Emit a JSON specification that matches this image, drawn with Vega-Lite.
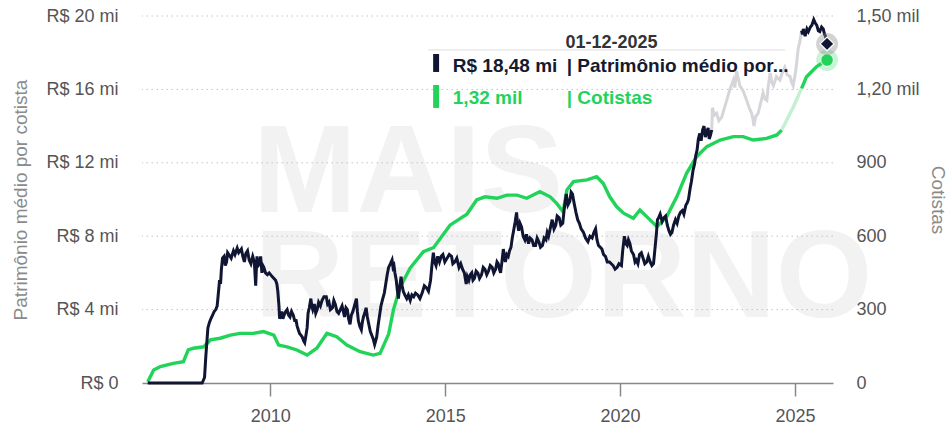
{
  "$schema": "https://vega.github.io/schema/vega-lite/v6.json",
  "width": 691,
  "height": 367,
  "autosize": {"type": "none"},
  "padding": {"left": 142, "top": 16, "right": 119, "bottom": 46},
  "background": "white",
  "config": {
    "view": {"stroke": null},
    "font": "Liberation Sans",
    "axis": {"labelFont": "Liberation Sans", "titleFont": "Liberation Sans"}
  },
  "datasets": {
    "patrimonio": [
      {"data": "2006-07-01", "valor": 0},
      {"data": "2007-07-01", "valor": 0},
      {"data": "2008-01-20", "valor": 0},
      {"data": "2008-02-14", "valor": 0.3},
      {"data": "2008-02-28", "valor": 1.5},
      {"data": "2008-03-20", "valor": 3.0},
      {"data": "2008-04-05", "valor": 3.3},
      {"data": "2008-04-20", "valor": 3.5},
      {"data": "2008-05-08", "valor": 3.7},
      {"data": "2008-05-25", "valor": 3.9},
      {"data": "2008-06-10", "valor": 4.0},
      {"data": "2008-06-25", "valor": 4.2},
      {"data": "2008-07-20", "valor": 5.6},
      {"data": "2008-07-30", "valor": 5.4},
      {"data": "2008-08-08", "valor": 6.2},
      {"data": "2008-08-20", "valor": 6.8},
      {"data": "2008-09-05", "valor": 6.9},
      {"data": "2008-09-18", "valor": 6.4},
      {"data": "2008-10-01", "valor": 6.6},
      {"data": "2008-10-12", "valor": 7.1},
      {"data": "2008-10-25", "valor": 7.0},
      {"data": "2008-11-18", "valor": 6.8},
      {"data": "2008-12-12", "valor": 7.2},
      {"data": "2008-12-28", "valor": 7.0},
      {"data": "2009-01-20", "valor": 7.35},
      {"data": "2009-02-05", "valor": 7.1},
      {"data": "2009-02-20", "valor": 7.2},
      {"data": "2009-03-05", "valor": 7.3},
      {"data": "2009-03-20", "valor": 6.9},
      {"data": "2009-04-05", "valor": 6.6},
      {"data": "2009-04-20", "valor": 7.05},
      {"data": "2009-05-08", "valor": 7.2},
      {"data": "2009-05-25", "valor": 6.7},
      {"data": "2009-06-12", "valor": 6.5},
      {"data": "2009-07-01", "valor": 6.9},
      {"data": "2009-07-18", "valor": 6.6},
      {"data": "2009-08-01", "valor": 5.3},
      {"data": "2009-08-08", "valor": 6.2},
      {"data": "2009-08-15", "valor": 6.9},
      {"data": "2009-08-28", "valor": 6.4},
      {"data": "2009-09-12", "valor": 6.5},
      {"data": "2009-09-22", "valor": 6.9},
      {"data": "2009-10-05", "valor": 6.0},
      {"data": "2009-10-15", "valor": 6.4},
      {"data": "2009-10-25", "valor": 6.3},
      {"data": "2009-11-12", "valor": 6.0},
      {"data": "2009-12-01", "valor": 5.9},
      {"data": "2009-12-20", "valor": 6.0},
      {"data": "2010-01-20", "valor": 5.8},
      {"data": "2010-02-08", "valor": 5.7},
      {"data": "2010-02-25", "valor": 5.6},
      {"data": "2010-03-10", "valor": 5.4},
      {"data": "2010-03-20", "valor": 5.0},
      {"data": "2010-04-01", "valor": 4.2},
      {"data": "2010-04-08", "valor": 3.5},
      {"data": "2010-04-20", "valor": 3.7},
      {"data": "2010-05-01", "valor": 3.9},
      {"data": "2010-05-12", "valor": 3.5},
      {"data": "2010-05-25", "valor": 3.7},
      {"data": "2010-06-10", "valor": 3.9},
      {"data": "2010-06-25", "valor": 4.0},
      {"data": "2010-07-10", "valor": 3.7},
      {"data": "2010-07-25", "valor": 3.6},
      {"data": "2010-08-10", "valor": 3.9},
      {"data": "2010-08-28", "valor": 3.7},
      {"data": "2010-09-12", "valor": 3.4},
      {"data": "2010-09-27", "valor": 3.4},
      {"data": "2010-10-08", "valor": 3.1},
      {"data": "2010-10-20", "valor": 2.9},
      {"data": "2010-11-02", "valor": 2.7},
      {"data": "2010-11-18", "valor": 2.6},
      {"data": "2010-12-01", "valor": 2.5},
      {"data": "2010-12-15", "valor": 2.3},
      {"data": "2010-12-26", "valor": 2.2},
      {"data": "2011-01-08", "valor": 2.6},
      {"data": "2011-01-20", "valor": 3.0},
      {"data": "2011-01-30", "valor": 3.8},
      {"data": "2011-02-12", "valor": 4.1},
      {"data": "2011-02-28", "valor": 4.6},
      {"data": "2011-03-10", "valor": 4.2},
      {"data": "2011-03-20", "valor": 4.0},
      {"data": "2011-04-05", "valor": 4.3},
      {"data": "2011-04-20", "valor": 3.8},
      {"data": "2011-05-05", "valor": 4.0},
      {"data": "2011-05-20", "valor": 4.4},
      {"data": "2011-06-08", "valor": 4.2},
      {"data": "2011-06-25", "valor": 4.5},
      {"data": "2011-07-15", "valor": 4.7},
      {"data": "2011-08-08", "valor": 4.7},
      {"data": "2011-08-22", "valor": 4.3},
      {"data": "2011-09-05", "valor": 4.4},
      {"data": "2011-09-20", "valor": 4.0},
      {"data": "2011-10-12", "valor": 4.1},
      {"data": "2011-10-26", "valor": 4.5},
      {"data": "2011-11-10", "valor": 4.3},
      {"data": "2011-11-28", "valor": 3.9},
      {"data": "2011-12-15", "valor": 3.8},
      {"data": "2012-01-02", "valor": 4.0},
      {"data": "2012-01-20", "valor": 4.2},
      {"data": "2012-02-02", "valor": 3.9},
      {"data": "2012-02-15", "valor": 3.6},
      {"data": "2012-03-01", "valor": 4.1},
      {"data": "2012-03-15", "valor": 4.0},
      {"data": "2012-03-28", "valor": 3.5},
      {"data": "2012-04-12", "valor": 3.2},
      {"data": "2012-04-26", "valor": 3.7},
      {"data": "2012-05-12", "valor": 3.9},
      {"data": "2012-05-28", "valor": 4.2},
      {"data": "2012-06-18", "valor": 4.6},
      {"data": "2012-06-28", "valor": 3.9},
      {"data": "2012-07-08", "valor": 3.4},
      {"data": "2012-07-22", "valor": 3.1},
      {"data": "2012-08-08", "valor": 2.9},
      {"data": "2012-08-18", "valor": 3.3},
      {"data": "2012-08-30", "valor": 3.6},
      {"data": "2012-09-12", "valor": 3.8},
      {"data": "2012-09-27", "valor": 4.1},
      {"data": "2012-10-10", "valor": 3.6},
      {"data": "2012-10-25", "valor": 3.2},
      {"data": "2012-11-10", "valor": 2.8},
      {"data": "2012-11-25", "valor": 2.6},
      {"data": "2012-12-10", "valor": 2.4},
      {"data": "2012-12-25", "valor": 2.1},
      {"data": "2013-01-05", "valor": 2.3},
      {"data": "2013-01-15", "valor": 2.5},
      {"data": "2013-02-01", "valor": 3.2},
      {"data": "2013-02-15", "valor": 3.7},
      {"data": "2013-03-01", "valor": 4.2},
      {"data": "2013-03-20", "valor": 4.6},
      {"data": "2013-04-05", "valor": 4.9},
      {"data": "2013-04-20", "valor": 5.4},
      {"data": "2013-05-05", "valor": 5.9},
      {"data": "2013-05-20", "valor": 6.3},
      {"data": "2013-06-08", "valor": 6.5},
      {"data": "2013-06-25", "valor": 6.7},
      {"data": "2013-07-05", "valor": 6.3},
      {"data": "2013-07-15", "valor": 6.4},
      {"data": "2013-07-25", "valor": 6.0},
      {"data": "2013-08-08", "valor": 5.6},
      {"data": "2013-08-18", "valor": 5.1},
      {"data": "2013-08-30", "valor": 4.6},
      {"data": "2013-09-12", "valor": 5.2},
      {"data": "2013-09-27", "valor": 5.8},
      {"data": "2013-10-08", "valor": 5.3},
      {"data": "2013-10-20", "valor": 5.0},
      {"data": "2013-11-05", "valor": 4.8},
      {"data": "2013-11-25", "valor": 4.6},
      {"data": "2013-12-12", "valor": 4.8},
      {"data": "2014-01-01", "valor": 4.5},
      {"data": "2014-01-18", "valor": 4.8},
      {"data": "2014-02-06", "valor": 4.7},
      {"data": "2014-02-25", "valor": 4.9},
      {"data": "2014-03-20", "valor": 4.8},
      {"data": "2014-04-12", "valor": 4.6},
      {"data": "2014-05-05", "valor": 4.9},
      {"data": "2014-05-28", "valor": 5.3},
      {"data": "2014-06-18", "valor": 5.2},
      {"data": "2014-07-10", "valor": 5.0},
      {"data": "2014-08-01", "valor": 5.6},
      {"data": "2014-08-15", "valor": 6.4},
      {"data": "2014-08-30", "valor": 7.1},
      {"data": "2014-09-12", "valor": 6.6},
      {"data": "2014-09-27", "valor": 6.4},
      {"data": "2014-10-15", "valor": 6.9},
      {"data": "2014-11-02", "valor": 6.6},
      {"data": "2014-11-20", "valor": 6.9},
      {"data": "2014-12-08", "valor": 7.0},
      {"data": "2014-12-28", "valor": 6.6},
      {"data": "2015-01-20", "valor": 6.8},
      {"data": "2015-02-12", "valor": 7.0},
      {"data": "2015-03-08", "valor": 6.9},
      {"data": "2015-03-22", "valor": 6.5},
      {"data": "2015-04-12", "valor": 6.6},
      {"data": "2015-05-02", "valor": 6.8},
      {"data": "2015-05-25", "valor": 6.3},
      {"data": "2015-06-12", "valor": 6.5},
      {"data": "2015-07-01", "valor": 6.2},
      {"data": "2015-07-20", "valor": 6.0},
      {"data": "2015-08-08", "valor": 5.4},
      {"data": "2015-08-20", "valor": 5.8},
      {"data": "2015-09-05", "valor": 5.6},
      {"data": "2015-09-20", "valor": 5.9},
      {"data": "2015-10-05", "valor": 6.0},
      {"data": "2015-10-18", "valor": 5.6},
      {"data": "2015-11-02", "valor": 5.7},
      {"data": "2015-11-20", "valor": 6.1},
      {"data": "2015-12-08", "valor": 6.0},
      {"data": "2015-12-25", "valor": 5.7},
      {"data": "2016-01-15", "valor": 5.9},
      {"data": "2016-02-02", "valor": 6.3},
      {"data": "2016-02-20", "valor": 6.2},
      {"data": "2016-03-10", "valor": 5.9},
      {"data": "2016-03-28", "valor": 6.1},
      {"data": "2016-04-15", "valor": 6.4},
      {"data": "2016-05-05", "valor": 6.3},
      {"data": "2016-05-22", "valor": 6.0},
      {"data": "2016-06-10", "valor": 6.2},
      {"data": "2016-06-25", "valor": 6.6},
      {"data": "2016-07-08", "valor": 6.5},
      {"data": "2016-07-20", "valor": 6.2},
      {"data": "2016-08-01", "valor": 6.0},
      {"data": "2016-08-15", "valor": 6.6},
      {"data": "2016-08-30", "valor": 7.3},
      {"data": "2016-09-10", "valor": 6.8},
      {"data": "2016-09-20", "valor": 6.6},
      {"data": "2016-10-05", "valor": 7.0},
      {"data": "2016-10-20", "valor": 6.9},
      {"data": "2016-11-02", "valor": 7.2},
      {"data": "2016-11-18", "valor": 7.4},
      {"data": "2016-12-01", "valor": 7.9},
      {"data": "2016-12-15", "valor": 8.3},
      {"data": "2017-01-01", "valor": 8.8},
      {"data": "2017-01-15", "valor": 9.3},
      {"data": "2017-01-25", "valor": 8.7},
      {"data": "2017-02-06", "valor": 8.3},
      {"data": "2017-02-20", "valor": 8.7},
      {"data": "2017-03-08", "valor": 8.5},
      {"data": "2017-03-25", "valor": 8.0},
      {"data": "2017-04-12", "valor": 7.8},
      {"data": "2017-04-28", "valor": 8.1},
      {"data": "2017-05-20", "valor": 7.6},
      {"data": "2017-06-05", "valor": 7.9},
      {"data": "2017-06-25", "valor": 7.8},
      {"data": "2017-07-12", "valor": 7.5},
      {"data": "2017-08-01", "valor": 7.5},
      {"data": "2017-08-18", "valor": 7.9},
      {"data": "2017-09-05", "valor": 7.7},
      {"data": "2017-09-22", "valor": 7.4},
      {"data": "2017-10-12", "valor": 7.5},
      {"data": "2017-10-30", "valor": 7.9},
      {"data": "2017-11-18", "valor": 7.8},
      {"data": "2017-12-01", "valor": 8.2},
      {"data": "2017-12-15", "valor": 8.0},
      {"data": "2018-01-05", "valor": 8.5},
      {"data": "2018-01-22", "valor": 8.9},
      {"data": "2018-02-10", "valor": 8.4},
      {"data": "2018-02-28", "valor": 8.6},
      {"data": "2018-03-15", "valor": 9.1},
      {"data": "2018-04-05", "valor": 9.0},
      {"data": "2018-04-22", "valor": 8.6},
      {"data": "2018-05-12", "valor": 8.7},
      {"data": "2018-05-28", "valor": 9.5},
      {"data": "2018-06-18", "valor": 10.3},
      {"data": "2018-07-05", "valor": 9.7},
      {"data": "2018-07-25", "valor": 9.9},
      {"data": "2018-08-08", "valor": 10.4},
      {"data": "2018-08-22", "valor": 10.3},
      {"data": "2018-09-08", "valor": 9.8},
      {"data": "2018-09-27", "valor": 9.3},
      {"data": "2018-10-15", "valor": 8.9},
      {"data": "2018-11-02", "valor": 8.7},
      {"data": "2018-11-20", "valor": 8.4},
      {"data": "2018-12-15", "valor": 8.2},
      {"data": "2019-01-05", "valor": 7.9},
      {"data": "2019-01-30", "valor": 7.7},
      {"data": "2019-02-20", "valor": 8.0},
      {"data": "2019-03-15", "valor": 7.9},
      {"data": "2019-04-02", "valor": 8.2},
      {"data": "2019-04-20", "valor": 8.4},
      {"data": "2019-05-05", "valor": 7.8},
      {"data": "2019-05-20", "valor": 7.5},
      {"data": "2019-06-08", "valor": 7.4},
      {"data": "2019-06-25", "valor": 7.3},
      {"data": "2019-07-12", "valor": 7.0},
      {"data": "2019-08-01", "valor": 6.9},
      {"data": "2019-08-20", "valor": 6.6},
      {"data": "2019-09-12", "valor": 6.6},
      {"data": "2019-10-01", "valor": 6.5},
      {"data": "2019-10-20", "valor": 6.4},
      {"data": "2019-11-10", "valor": 6.2},
      {"data": "2019-12-01", "valor": 6.3},
      {"data": "2019-12-20", "valor": 6.5},
      {"data": "2020-01-15", "valor": 6.4},
      {"data": "2020-01-28", "valor": 7.2},
      {"data": "2020-02-15", "valor": 8.0},
      {"data": "2020-03-01", "valor": 7.6},
      {"data": "2020-03-15", "valor": 7.5},
      {"data": "2020-03-28", "valor": 7.8},
      {"data": "2020-04-12", "valor": 7.6},
      {"data": "2020-04-28", "valor": 7.2},
      {"data": "2020-05-20", "valor": 7.0},
      {"data": "2020-06-05", "valor": 6.6},
      {"data": "2020-06-18", "valor": 6.7},
      {"data": "2020-07-05", "valor": 6.5},
      {"data": "2020-07-22", "valor": 7.0},
      {"data": "2020-08-10", "valor": 7.1},
      {"data": "2020-08-28", "valor": 6.8},
      {"data": "2020-09-15", "valor": 6.5},
      {"data": "2020-10-05", "valor": 6.6},
      {"data": "2020-10-22", "valor": 6.9},
      {"data": "2020-11-10", "valor": 6.6},
      {"data": "2020-11-28", "valor": 6.4},
      {"data": "2020-12-15", "valor": 6.5},
      {"data": "2020-12-28", "valor": 7.2},
      {"data": "2021-01-15", "valor": 8.2},
      {"data": "2021-01-25", "valor": 8.9},
      {"data": "2021-02-06", "valor": 9.0},
      {"data": "2021-02-22", "valor": 9.2},
      {"data": "2021-03-15", "valor": 8.8},
      {"data": "2021-04-01", "valor": 9.0},
      {"data": "2021-04-20", "valor": 9.1},
      {"data": "2021-05-08", "valor": 8.6},
      {"data": "2021-05-25", "valor": 8.3},
      {"data": "2021-06-10", "valor": 8.1},
      {"data": "2021-06-25", "valor": 8.2},
      {"data": "2021-07-12", "valor": 8.6},
      {"data": "2021-08-01", "valor": 8.9},
      {"data": "2021-08-18", "valor": 8.7},
      {"data": "2021-09-05", "valor": 9.1},
      {"data": "2021-09-22", "valor": 9.3},
      {"data": "2021-10-12", "valor": 9.4},
      {"data": "2021-10-28", "valor": 9.2},
      {"data": "2021-11-18", "valor": 9.7},
      {"data": "2021-12-01", "valor": 9.8},
      {"data": "2021-12-15", "valor": 10.0},
      {"data": "2022-01-01", "valor": 10.6},
      {"data": "2022-01-15", "valor": 11.0},
      {"data": "2022-02-01", "valor": 11.6},
      {"data": "2022-02-15", "valor": 11.9},
      {"data": "2022-03-01", "valor": 12.4},
      {"data": "2022-03-15", "valor": 12.7},
      {"data": "2022-03-28", "valor": 13.3},
      {"data": "2022-04-12", "valor": 13.6},
      {"data": "2022-04-26", "valor": 13.2},
      {"data": "2022-05-12", "valor": 13.8},
      {"data": "2022-05-26", "valor": 14.0},
      {"data": "2022-06-10", "valor": 13.4},
      {"data": "2022-06-25", "valor": 13.7},
      {"data": "2022-07-08", "valor": 13.9},
      {"data": "2022-07-20", "valor": 13.3},
      {"data": "2022-08-01", "valor": 13.5},
      {"data": "2022-08-15", "valor": 13.8},
      {"data": "2022-08-22", "valor": 15.0},
      {"data": "2022-09-12", "valor": 14.6},
      {"data": "2022-10-05", "valor": 14.7},
      {"data": "2022-10-28", "valor": 14.3},
      {"data": "2022-11-28", "valor": 14.5},
      {"data": "2022-12-20", "valor": 14.9},
      {"data": "2023-01-18", "valor": 15.4},
      {"data": "2023-02-20", "valor": 16.0},
      {"data": "2023-03-28", "valor": 16.5},
      {"data": "2023-04-12", "valor": 16.1},
      {"data": "2023-05-01", "valor": 17.0},
      {"data": "2023-05-18", "valor": 16.6},
      {"data": "2023-06-05", "valor": 16.2},
      {"data": "2023-07-10", "valor": 15.9},
      {"data": "2023-08-15", "valor": 15.4},
      {"data": "2023-09-10", "valor": 15.0},
      {"data": "2023-10-05", "valor": 14.7},
      {"data": "2023-10-18", "valor": 14.4},
      {"data": "2023-10-30", "valor": 14.0},
      {"data": "2023-11-15", "valor": 14.5},
      {"data": "2023-12-12", "valor": 14.7},
      {"data": "2024-01-05", "valor": 15.2},
      {"data": "2024-02-02", "valor": 15.8},
      {"data": "2024-02-18", "valor": 15.5},
      {"data": "2024-03-12", "valor": 15.4},
      {"data": "2024-03-28", "valor": 16.2},
      {"data": "2024-04-16", "valor": 16.9},
      {"data": "2024-05-02", "valor": 16.4},
      {"data": "2024-05-20", "valor": 16.2},
      {"data": "2024-06-20", "valor": 16.7},
      {"data": "2024-07-26", "valor": 16.5},
      {"data": "2024-08-20", "valor": 16.9},
      {"data": "2024-09-16", "valor": 17.2},
      {"data": "2024-10-10", "valor": 16.8},
      {"data": "2024-11-10", "valor": 16.7},
      {"data": "2024-11-25", "valor": 16.4},
      {"data": "2024-12-12", "valor": 16.2},
      {"data": "2025-01-08", "valor": 17.0},
      {"data": "2025-02-02", "valor": 18.2},
      {"data": "2025-02-20", "valor": 18.6},
      {"data": "2025-03-10", "valor": 19.2},
      {"data": "2025-03-20", "valor": 19.0},
      {"data": "2025-03-28", "valor": 19.3},
      {"data": "2025-04-16", "valor": 18.9},
      {"data": "2025-05-05", "valor": 19.3},
      {"data": "2025-05-20", "valor": 19.15},
      {"data": "2025-06-10", "valor": 19.4},
      {"data": "2025-06-25", "valor": 19.5},
      {"data": "2025-07-15", "valor": 19.8},
      {"data": "2025-08-01", "valor": 19.6},
      {"data": "2025-08-15", "valor": 19.5},
      {"data": "2025-09-01", "valor": 19.2},
      {"data": "2025-09-16", "valor": 19.15},
      {"data": "2025-10-05", "valor": 19.4},
      {"data": "2025-10-22", "valor": 19.3},
      {"data": "2025-11-05", "valor": 19.0},
      {"data": "2025-11-15", "valor": 18.9},
      {"data": "2025-12-01", "valor": 18.48}
    ],
    "cotistas": [
      {"data": "2006-07-01", "valor": 5},
      {"data": "2006-09-01", "valor": 53},
      {"data": "2006-11-10", "valor": 67},
      {"data": "2007-03-25", "valor": 80},
      {"data": "2007-07-08", "valor": 87},
      {"data": "2007-08-28", "valor": 135},
      {"data": "2007-10-22", "valor": 142},
      {"data": "2008-02-06", "valor": 148},
      {"data": "2008-04-16", "valor": 176},
      {"data": "2008-07-26", "valor": 183},
      {"data": "2008-11-10", "valor": 196},
      {"data": "2009-02-20", "valor": 203},
      {"data": "2009-07-08", "valor": 203},
      {"data": "2009-10-22", "valor": 210},
      {"data": "2010-02-06", "valor": 196},
      {"data": "2010-03-28", "valor": 155},
      {"data": "2010-06-25", "valor": 148},
      {"data": "2010-10-05", "valor": 135},
      {"data": "2011-01-20", "valor": 114},
      {"data": "2011-05-01", "valor": 142},
      {"data": "2011-08-15", "valor": 203},
      {"data": "2011-11-25", "valor": 189},
      {"data": "2012-03-10", "valor": 155},
      {"data": "2012-07-26", "valor": 128},
      {"data": "2012-12-10", "valor": 114},
      {"data": "2013-02-20", "valor": 121},
      {"data": "2013-05-20", "valor": 200},
      {"data": "2013-07-10", "valor": 300},
      {"data": "2013-09-15", "valor": 390},
      {"data": "2014-01-01", "valor": 470},
      {"data": "2014-05-18", "valor": 537},
      {"data": "2014-09-01", "valor": 553},
      {"data": "2015-02-20", "valor": 645},
      {"data": "2015-08-15", "valor": 690},
      {"data": "2015-11-25", "valor": 748},
      {"data": "2016-02-20", "valor": 761},
      {"data": "2016-06-25", "valor": 755},
      {"data": "2016-10-05", "valor": 768},
      {"data": "2017-01-20", "valor": 768},
      {"data": "2017-05-01", "valor": 755},
      {"data": "2017-09-15", "valor": 782},
      {"data": "2018-01-01", "valor": 761},
      {"data": "2018-03-10", "valor": 734},
      {"data": "2018-05-15", "valor": 700},
      {"data": "2018-06-25", "valor": 789},
      {"data": "2018-09-01", "valor": 823},
      {"data": "2019-01-20", "valor": 830},
      {"data": "2019-05-01", "valor": 843},
      {"data": "2019-07-08", "valor": 816},
      {"data": "2019-09-15", "valor": 761},
      {"data": "2019-11-25", "valor": 721},
      {"data": "2020-02-06", "valor": 694},
      {"data": "2020-05-18", "valor": 673},
      {"data": "2020-07-26", "valor": 707},
      {"data": "2020-10-05", "valor": 680},
      {"data": "2021-01-20", "valor": 639},
      {"data": "2021-05-01", "valor": 680},
      {"data": "2021-08-15", "valor": 761},
      {"data": "2021-11-25", "valor": 857},
      {"data": "2022-03-10", "valor": 925},
      {"data": "2022-06-25", "valor": 966},
      {"data": "2022-11-10", "valor": 993},
      {"data": "2023-03-28", "valor": 1007},
      {"data": "2023-07-08", "valor": 1007},
      {"data": "2023-10-22", "valor": 993},
      {"data": "2024-03-10", "valor": 1000},
      {"data": "2024-06-25", "valor": 1014},
      {"data": "2024-08-15", "valor": 1034},
      {"data": "2024-12-15", "valor": 1129},
      {"data": "2025-03-10", "valor": 1204},
      {"data": "2025-05-01", "valor": 1252},
      {"data": "2025-08-15", "valor": 1293},
      {"data": "2025-12-01", "valor": 1320}
    ],
    "grade": [{"v": 4}, {"v": 8}, {"v": 12}, {"v": 16}, {"v": 20}],
    "um": [{}]
  },
  "resolve": {"scale": {"y": "independent"}},
  "layer": [
    {
      "layer": [
        {
          "data": {"name": "um"},
          "mark": {"type": "text", "text": "MAIS", "font": "Liberation Sans", "fontWeight": "bold", "fontSize": 124, "color": "#f2f2f2", "align": "left", "baseline": "alphabetic"},
          "encoding": {
            "x": {"datum": {"year": 2009, "month": 7, "date": 7}, "type": "temporal", "scale": {"domain": [{"year": 2006, "month": 5, "date": 2}, {"year": 2026, "month": 2, "date": 1}]}},
            "y": {"datum": 9.32, "type": "quantitative", "scale": {"domain": [0, 20], "nice": false}, "axis": null}
          }
        },
        {
          "data": {"name": "um"},
          "mark": {"type": "text", "text": "RETORNO", "font": "Liberation Sans", "fontWeight": "bold", "fontSize": 124, "color": "#f2f2f2", "align": "left", "baseline": "alphabetic"},
          "encoding": {
            "x": {"datum": {"year": 2009, "month": 7, "date": 20}, "type": "temporal"},
            "y": {"datum": 3.6, "type": "quantitative", "axis": null}
          }
        },
        {
          "data": {"name": "grade"},
          "mark": {"type": "rule", "color": "#c4c4c4", "strokeWidth": 1, "strokeDash": [1.5, 3.5]},
          "encoding": {
            "y": {"field": "v", "type": "quantitative", "axis": null}
          }
        }
      ]
    },
    {
      "layer": [
        {
          "data": {"name": "cotistas"},
          "transform": [{"filter": "time(toDate(datum.data)) <= utc(2024, 7, 16)"}],
          "mark": {"type": "line", "color": "#22d35a", "strokeWidth": 3.4},
          "encoding": {
            "x": {"field": "data", "type": "temporal"},
            "y": {"field": "valor", "type": "quantitative", "scale": {"domain": [0, 1500], "nice": false},
              "axis": {"orient": "right", "values": [0, 300, 600, 900, 1200, 1500], "grid": false, "domain": false, "ticks": false,
                "labelFontSize": 18, "labelColor": "#555555", "labelPadding": 23,
                "labelExpr": "datum.value >= 1000 ? replace(format(datum.value / 1000, '.2f'), '.', ',') + ' mil' : format(datum.value, 'd')",
                "title": "Cotistas", "titleFontSize": 19, "titleFontWeight": "normal", "titleColor": "#8a8a8a", "titlePadding": 8}}
          }
        },
        {
          "data": {"name": "cotistas"},
          "transform": [{"filter": "time(toDate(datum.data)) >= utc(2024, 7, 14) && time(toDate(datum.data)) <= utc(2025, 2, 11)"}],
          "mark": {"type": "line", "color": "#c3f0cf", "strokeWidth": 3.4},
          "encoding": {
            "x": {"field": "data", "type": "temporal"},
            "y": {"field": "valor", "type": "quantitative"}
          }
        },
        {
          "data": {"name": "cotistas"},
          "transform": [{"filter": "time(toDate(datum.data)) >= utc(2025, 2, 9)"}],
          "mark": {"type": "line", "color": "#22d35a", "strokeWidth": 3.4},
          "encoding": {
            "x": {"field": "data", "type": "temporal"},
            "y": {"field": "valor", "type": "quantitative"}
          }
        },
        {
          "data": {"name": "um"},
          "mark": {"type": "point", "shape": "circle", "filled": true, "size": 470, "color": "#22d35a", "opacity": 0.25},
          "encoding": {
            "x": {"datum": {"year": 2025, "month": 12, "date": 1}, "type": "temporal"},
            "y": {"datum": 1320, "type": "quantitative"}
          }
        },
        {
          "data": {"name": "um"},
          "mark": {"type": "point", "shape": "circle", "filled": true, "size": 160, "color": "#22d35a", "opacity": 1, "stroke": "white", "strokeWidth": 1},
          "encoding": {
            "x": {"datum": {"year": 2025, "month": 12, "date": 1}, "type": "temporal"},
            "y": {"datum": 1320, "type": "quantitative"}
          }
        }
      ]
    },
    {
      "layer": [
        {
          "data": {"name": "patrimonio"},
          "transform": [{"filter": "time(toDate(datum.data)) <= utc(2022, 7, 16)"}],
          "mark": {"type": "line", "color": "#0f1533", "strokeWidth": 3},
          "encoding": {
            "x": {"field": "data", "type": "temporal",
              "axis": {"values": [{"year": 2010}, {"year": 2015}, {"year": 2020}, {"year": 2025}], "format": "%Y", "grid": false,
                "domainColor": "#888888", "domainWidth": 1.5, "tickColor": "#888888", "tickWidth": 1.5, "tickSize": 13,
                "labelFontSize": 18, "labelColor": "#555555", "labelPadding": 11, "labelFlush": false, "title": null}},
            "y": {"field": "valor", "type": "quantitative", "scale": {"domain": [0, 20], "nice": false},
              "axis": {"orient": "left", "values": [0, 4, 8, 12, 16, 20], "grid": false, "domain": false, "ticks": false,
                "labelFontSize": 18, "labelColor": "#555555", "labelPadding": 24,
                "labelExpr": "datum.value == 0 ? 'R$ 0' : 'R$ ' + datum.value + ' mi'",
                "title": "Patrimônio médio por cotista", "titleFontSize": 19, "titleFontWeight": "normal", "titleColor": "#8a8a8a", "titlePadding": 15}}
          }
        },
        {
          "data": {"name": "patrimonio"},
          "transform": [{"filter": "time(toDate(datum.data)) >= utc(2022, 7, 14) && time(toDate(datum.data)) <= utc(2025, 2, 11)"}],
          "mark": {"type": "line", "color": "#d6d6da", "strokeWidth": 3},
          "encoding": {
            "x": {"field": "data", "type": "temporal"},
            "y": {"field": "valor", "type": "quantitative"}
          }
        },
        {
          "data": {"name": "patrimonio"},
          "transform": [{"filter": "time(toDate(datum.data)) >= utc(2025, 2, 9)"}],
          "mark": {"type": "line", "color": "#0f1533", "strokeWidth": 3},
          "encoding": {
            "x": {"field": "data", "type": "temporal"},
            "y": {"field": "valor", "type": "quantitative"}
          }
        },
        {
          "data": {"name": "um"},
          "mark": {"type": "point", "shape": "circle", "filled": true, "size": 480, "color": "#8f8f8f", "opacity": 0.4},
          "encoding": {
            "x": {"datum": {"year": 2025, "month": 12, "date": 1}, "type": "temporal"},
            "y": {"datum": 18.48, "type": "quantitative"}
          }
        },
        {
          "data": {"name": "um"},
          "mark": {"type": "point", "shape": "diamond", "filled": true, "size": 190, "color": "#0f1533", "opacity": 1, "stroke": "white", "strokeWidth": 1.2},
          "encoding": {
            "x": {"datum": {"year": 2025, "month": 12, "date": 1}, "type": "temporal"},
            "y": {"datum": 18.48, "type": "quantitative"}
          }
        },
        {
          "data": {"name": "um"},
          "mark": {"type": "rule", "color": "#dcdcdc", "strokeWidth": 1},
          "encoding": {
            "x": {"datum": {"year": 2014, "month": 7, "date": 7}, "type": "temporal"},
            "x2": {"datum": {"year": 2024, "month": 9, "date": 18}},
            "y": {"datum": 18.15, "type": "quantitative"}
          }
        },
        {
          "data": {"name": "um"},
          "mark": {"type": "text", "text": "01-12-2025", "font": "Liberation Sans", "fontWeight": "bold", "fontSize": 18, "color": "#333333", "align": "center", "baseline": "alphabetic"},
          "encoding": {
            "x": {"datum": {"year": 2019, "month": 10, "date": 3}, "type": "temporal"},
            "y": {"datum": 18.27, "type": "quantitative"}
          }
        },
        {
          "data": {"name": "um"},
          "mark": {"type": "rect", "color": "#0f1533"},
          "encoding": {
            "x": {"datum": {"year": 2014, "month": 8, "date": 28}, "type": "temporal"},
            "x2": {"datum": {"year": 2014, "month": 10, "date": 29}},
            "y": {"datum": 17.93, "type": "quantitative"},
            "y2": {"datum": 16.95}
          }
        },
        {
          "data": {"name": "um"},
          "mark": {"type": "rect", "color": "#22d35a"},
          "encoding": {
            "x": {"datum": {"year": 2014, "month": 8, "date": 28}, "type": "temporal"},
            "x2": {"datum": {"year": 2014, "month": 10, "date": 29}},
            "y": {"datum": 16.24, "type": "quantitative"},
            "y2": {"datum": 14.99}
          }
        },
        {
          "data": {"name": "um"},
          "mark": {"type": "text", "text": "R$ 18,48 mi", "font": "Liberation Sans", "fontWeight": "bold", "fontSize": 19, "color": "#141a30", "align": "left", "baseline": "alphabetic"},
          "encoding": {
            "x": {"datum": {"year": 2015, "month": 3, "date": 21}, "type": "temporal"},
            "y": {"datum": 16.95, "type": "quantitative"}
          }
        },
        {
          "data": {"name": "um"},
          "mark": {"type": "text", "text": "| Patrimônio médio por...", "font": "Liberation Sans", "fontWeight": "bold", "fontSize": 19, "color": "#141a30", "align": "left", "baseline": "alphabetic"},
          "encoding": {
            "x": {"datum": {"year": 2018, "month": 6, "date": 23}, "type": "temporal"},
            "y": {"datum": 16.95, "type": "quantitative"}
          }
        },
        {
          "data": {"name": "um"},
          "mark": {"type": "text", "text": "1,32 mil", "font": "Liberation Sans", "fontWeight": "bold", "fontSize": 19, "color": "#22d35a", "align": "left", "baseline": "alphabetic"},
          "encoding": {
            "x": {"datum": {"year": 2015, "month": 3, "date": 21}, "type": "temporal"},
            "y": {"datum": 15.19, "type": "quantitative"}
          }
        },
        {
          "data": {"name": "um"},
          "mark": {"type": "text", "text": "| Cotistas", "font": "Liberation Sans", "fontWeight": "bold", "fontSize": 19, "color": "#22d35a", "align": "left", "baseline": "alphabetic"},
          "encoding": {
            "x": {"datum": {"year": 2018, "month": 6, "date": 23}, "type": "temporal"},
            "y": {"datum": 15.19, "type": "quantitative"}
          }
        }
      ]
    }
  ]
}
